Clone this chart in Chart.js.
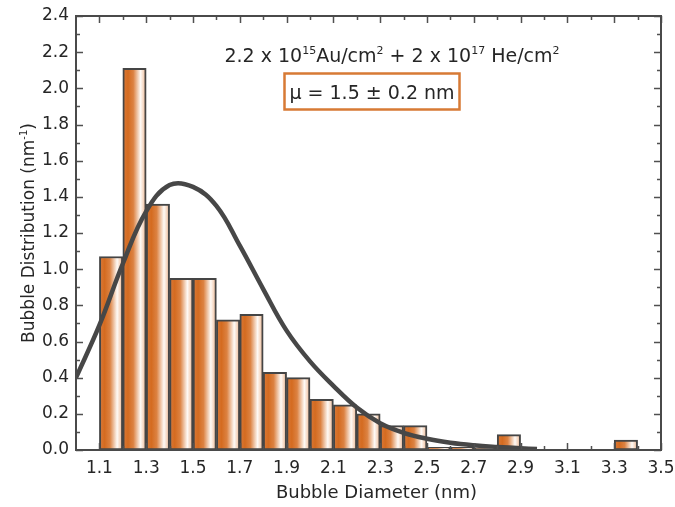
<!DOCTYPE html>
<html><head><meta charset="utf-8">
<script src="https://cdn.jsdelivr.net/npm/chart.js@4/dist/chart.umd.min.js"></script>
<style>html,body{margin:0;padding:0;background:#fff;}#wrap{width:675px;height:507px;}</style>
</head><body><div id="wrap"><canvas id="c" width="675" height="507"></canvas></div>
<script>
// ---- data ----
const binCenters = [1.15,1.25,1.35,1.45,1.55,1.65,1.75,1.85,1.95,2.05,2.15,2.25,2.35,2.45,2.55,2.65,2.75,2.85,3.35];
const binValues  = [1.07,2.11,1.36,0.95,0.95,0.72,0.75,0.43,0.40,0.28,0.25,0.20,0.135,0.135,0.015,0.015,0.01,0.085,0.055];
const fitX = [1.0,1.1,1.2,1.3,1.4,1.5,1.6,1.7,1.8,1.9,2.0,2.1,2.2,2.3,2.4,2.5,2.6,2.7,2.8,2.9,2.97];
const fitY = [0.40,0.69,1.03,1.32,1.465,1.455,1.35,1.13,0.89,0.66,0.49,0.355,0.235,0.148,0.095,0.062,0.04,0.026,0.017,0.01,0.005];
const xTicks = [1.1,1.3,1.5,1.7,1.9,2.1,2.3,2.5,2.7,2.9,3.1,3.3,3.5];
const xMinorTicks = [1.2,1.4,1.6,1.8,2.0,2.2,2.4,2.6,2.8,3.0,3.2,3.4];
const yTicks = [0,0.2,0.4,0.6,0.8,1.0,1.2,1.4,1.6,1.8,2.0,2.2,2.4];
const yMinorTicks = [0.1,0.3,0.5,0.7,0.9,1.1,1.3,1.5,1.7,1.9,2.1,2.3];
const xTitle = 'Bubble Diameter (nm)';
const yTitle = 'Bubble Distribution (nm';
const yTitleSup = '-1';
const annotLine = [['2.2 x 10',false],['15',true],['Au/cm',false],['2',true],[' + 2 x 10',false],['17',true],[' He/cm',false],['2',true]];
const boxText = 'μ = 1.5 ± 0.2 nm';

const FONT = 'DejaVu Sans';
const TXT = '#262626';
const ORANGE = '#d2691e';

function barGradient(c){
  const chart = c.chart;
  const xs = chart.scales && chart.scales.x;
  if (!xs || c.type !== 'data' || !c.raw) return ORANGE;
  const xl = xs.getPixelForValue(c.raw.x - 0.05), xr = xs.getPixelForValue(c.raw.x + 0.05);
  if (!isFinite(xl) || !isFinite(xr)) return ORANGE;
  const g = chart.ctx.createLinearGradient(xl, 0, xr, 0);
  g.addColorStop(0, '#da7a3a');
  g.addColorStop(0.22, '#d46b20');
  g.addColorStop(0.45, '#dc8242');
  g.addColorStop(0.76, '#fefaf6');
  g.addColorStop(1, '#ecb38c');
  return g;
}

function drawRich(ctx, segs, cx, baseline, size){
  const supSize = Math.round(size*0.6);
  let w = 0;
  for (const [t, sup] of segs){ ctx.font = (sup?supSize:size)+'px "'+FONT+'"'; w += ctx.measureText(t).width; }
  let x = cx - w/2;
  ctx.textAlign = 'left'; ctx.textBaseline = 'alphabetic';
  for (const [t, sup] of segs){
    ctx.font = (sup?supSize:size)+'px "'+FONT+'"';
    ctx.fillText(t, x, sup ? baseline - size*0.42 : baseline);
    x += ctx.measureText(t).width;
  }
}

const framePlugin = {
  id:'frame',
  afterDatasetsDraw(chart){
    const {ctx, chartArea:a, scales:{x, y}} = chart;
    ctx.save();
    ctx.strokeStyle = '#505050';
    ctx.lineWidth = 1.5;
    ctx.beginPath();
    const tick = (vals, len, isX) => {
      for (const v of vals){
        if (isX){
          const px = Math.round(x.getPixelForValue(v)) + 0.5;
          ctx.moveTo(px, a.bottom); ctx.lineTo(px, a.bottom - len);
          ctx.moveTo(px, a.top); ctx.lineTo(px, a.top + len);
        } else {
          const py = Math.round(y.getPixelForValue(v)) + 0.5;
          ctx.moveTo(a.left, py); ctx.lineTo(a.left + len, py);
          ctx.moveTo(a.right, py); ctx.lineTo(a.right - len, py);
        }
      }
    };
    tick(xTicks, 7, true); tick(xMinorTicks, 4, true);
    tick(yTicks, 7, false); tick(yMinorTicks, 4, false);
    ctx.stroke();
    ctx.lineWidth = 2;
    ctx.strokeStyle = '#4a4a4a';
    ctx.strokeRect(a.left, a.top, a.right - a.left, a.bottom - a.top);
    ctx.restore();
  },
  afterDraw(chart){
    const {ctx, chartArea:a} = chart;
    ctx.save();
    ctx.fillStyle = TXT;
    ctx.font = '18px "'+FONT+'"';
    ctx.textAlign = 'center'; ctx.textBaseline = 'middle';
    ctx.fillText(xTitle, (a.left + a.right)/2 + 8, 493);
    ctx.translate(28, (a.top + a.bottom)/2);
    ctx.rotate(-Math.PI/2);
    drawRich(ctx, [[yTitle,false],[yTitleSup,true],[')',false]], 0, 6, 17);
    ctx.restore();
    ctx.save();
    ctx.fillStyle = TXT;
    drawRich(ctx, annotLine, 392, 62, 19);
    ctx.strokeStyle = '#d77a35';
    ctx.lineWidth = 2.5;
    ctx.strokeRect(284.5, 73.5, 175, 36);
    ctx.font = '19px "'+FONT+'"';
    ctx.textAlign = 'center'; ctx.textBaseline = 'alphabetic';
    ctx.fillText(boxText, 372, 99);
    ctx.restore();
  }
};

new Chart(document.getElementById('c'), {
  data: {
    datasets: [
      { type:'line', data: fitX.map((v,i)=>({x:v, y:fitY[i]})), borderColor:'#474747', borderWidth:4.5,
        pointRadius:0, tension:0.4, fill:false, order:0 },
      { type:'bar', data: binCenters.map((v,i)=>({x:v, y:binValues[i]})), backgroundColor: barGradient,
        borderColor:'#454545', borderWidth:2, borderSkipped:false, barPercentage:1, categoryPercentage:1, grouped:false, order:1 }
    ]
  },
  options: {
    responsive:false, animation:false, devicePixelRatio:1,
    layout:{padding:{left:0, right:14, top:16, bottom:0}},
    plugins:{legend:{display:false}, tooltip:{enabled:false}, title:{display:false}},
    scales:{
      x:{ type:'linear', min:1.0, max:3.5, offset:false,
        grid:{display:false, drawTicks:false, offset:false}, border:{display:false},
        ticks:{font:{family:FONT, size:17}, color:TXT, padding:8, autoSkip:false, maxRotation:0, minRotation:0,
               callback:v=>Number(v).toFixed(1)},
        afterBuildTicks:s=>{ s.ticks = xTicks.map(v=>({value:v})); },
        afterFit:s=>{ s.height = 57; s.paddingLeft = 0; s.paddingRight = 0; }
      },
      y:{ type:'linear', min:0, max:2.4,
        grid:{display:false, drawTicks:false}, border:{display:false},
        ticks:{font:{family:FONT, size:17}, color:TXT, padding:7, callback:v=>Number(v).toFixed(1)},
        afterBuildTicks:s=>{ s.ticks = yTicks.map(v=>({value:v})); },
        afterFit:s=>{ s.width = 76; s.paddingTop = 0; s.paddingBottom = 0; }
      }
    }
  },
  plugins:[framePlugin]
});
</script>
</body></html>
